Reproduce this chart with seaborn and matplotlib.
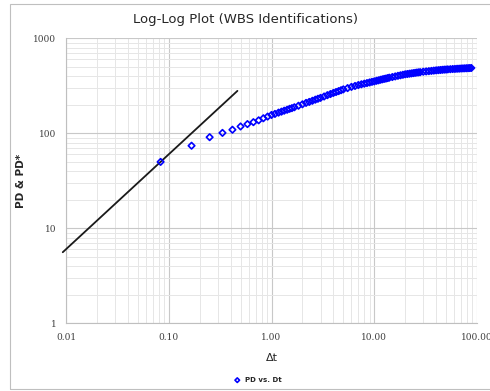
import matplotlib
matplotlib.use("Agg")
import matplotlib.pyplot as plt
import matplotlib.ticker as mticker
from matplotlib.patches import Rectangle
import seaborn as sns
import pandas as pd

# --- data ---
dt = [0.0833, 0.1667, 0.25, 0.3333, 0.4167, 0.5, 0.5833, 0.6667, 0.75, 0.8333, 0.9167,
      1.0, 1.08, 1.17, 1.25, 1.33, 1.42, 1.5, 1.58, 1.67, 1.83, 2.0, 2.17, 2.33, 2.5,
      2.67, 2.83, 3.0, 3.25, 3.5, 3.75, 4.0, 4.25, 4.5, 4.75, 5.0, 5.5, 6.0, 6.5, 7.0,
      7.5, 8.0, 8.5, 9.0, 9.5, 10.0, 10.5, 11.0, 11.5, 12.0, 12.5, 13.0, 13.5, 14.0,
      15.0, 16.0, 17.0, 18.0, 19.0, 20.0, 21.0, 22.0, 23.0, 24.0, 25.0, 26.0, 27.0,
      28.0, 30.0, 32.0, 34.0, 36.0, 38.0, 40.0, 42.0, 44.0, 46.0, 48.0, 50.0, 52.0,
      55.0, 58.0, 61.0, 64.0, 67.0, 70.0, 73.0, 76.0, 79.0, 82.0, 85.0, 88.0]
pd_vals = [50, 74, 91, 101, 109, 118, 125, 131, 137, 144, 150,
           156, 160, 165, 169, 173, 177, 181, 184, 188, 195, 202, 209, 214, 220,
           226, 231, 236, 244, 252, 259, 266, 272, 278, 284, 290, 299, 308, 315, 322,
           328, 333, 338, 343, 348, 352, 357, 361, 366, 370, 374, 377, 381, 385,
           391, 397, 403, 408, 413, 418, 421, 424, 427, 430, 433, 436, 438,
           440, 445, 448, 451, 454, 457, 460, 462, 464, 466, 468, 469, 471,
           473, 475, 476, 478, 479, 481, 482, 483, 484, 485, 486, 487]

# unit-slope wellbore storage line
line_dt = [0.0093, 0.466]
line_pd = [5.6, 279.6]

x_ticks = [0.01, 0.1, 1, 10, 100]
x_tick_labels = ["0.01", "0.10", "1.00", "10.00", "100.00"]
y_ticks = [1, 10, 100, 1000]
y_tick_labels = ["1", "10", "100", "1000"]

df = pd.DataFrame({"Dt": dt, "PD": pd_vals})
df_line = pd.DataFrame({"Dt": line_dt, "PD": line_pd})

sns.set_style("white")
plt.rcParams["font.family"] = ["DejaVu Sans"]

fig = plt.figure(figsize=(4.9, 3.91), dpi=100)
fig.patches.append(Rectangle((10 / 490, 2 / 391), 485 / 490, 385 / 391,
                             transform=fig.transFigure, fill=False,
                             edgecolor="#bfbfbf", linewidth=0.8))
ax = fig.add_axes([66 / 490, (391 - 323.3) / 391, 411 / 490, 285 / 391])

ax.set_xscale("log")
ax.set_yscale("log")
ax.set_xlim(0.01, 100)
ax.set_ylim(1, 1000)

ax.grid(True, which="major", color="#c8c8c8", linewidth=0.8)
ax.grid(True, which="minor", color="#e6e6e6", linewidth=0.7)
ax.set_axisbelow(True)

sns.lineplot(data=df_line, x="Dt", y="PD", ax=ax, color="#1a1a1a", linewidth=1.3,
             legend=False, clip_on=False, zorder=3)
sns.scatterplot(data=df, x="Dt", y="PD", ax=ax, marker="D", s=11,
                facecolor="none", edgecolor="#0000ff", linewidth=1.2,
                label="PD vs. Dt", zorder=4, clip_on=False)

ax.xaxis.set_major_locator(mticker.FixedLocator(x_ticks))
ax.set_xticklabels(x_tick_labels)
ax.yaxis.set_major_locator(mticker.FixedLocator(y_ticks))
ax.set_yticklabels(y_tick_labels)
ax.xaxis.set_minor_locator(mticker.LogLocator(base=10, subs=range(2, 10), numticks=20))
ax.yaxis.set_minor_locator(mticker.LogLocator(base=10, subs=range(2, 10), numticks=20))
ax.xaxis.set_minor_formatter(mticker.NullFormatter())
ax.yaxis.set_minor_formatter(mticker.NullFormatter())

ax.tick_params(axis="both", which="major", length=3, width=0.8, color="#bfbfbf",
               labelsize=6.5, labelcolor="#404040", pad=4)
ax.tick_params(axis="both", which="minor", length=0)
for lab in ax.get_xticklabels() + ax.get_yticklabels():
    lab.set_family("DejaVu Serif")

for side in ["left", "bottom"]:
    ax.spines[side].set_color("#bfbfbf")
    ax.spines[side].set_linewidth(0.8)
for side in ["top", "right"]:
    ax.spines[side].set_visible(False)

ax.set_xlabel("Δt", fontsize=8, color="#262626", labelpad=8)
ax.set_ylabel("PD & PD*", fontsize=7.5, color="#262626", fontweight="bold", labelpad=5)
fig.text(0.5, 1 - 20 / 391, "Log-Log Plot (WBS Identifications)", ha="center",
         va="center", fontsize=9.5, color="#262626")

ax.legend(loc="center", bbox_to_anchor=(256 / 490, 1 - 380 / 391),
          bbox_transform=fig.transFigure, frameon=False, prop={"size": 5, "weight": "bold"},
          handletextpad=0.1, markerscale=0.7)

fig.savefig("out.png", dpi=100)
